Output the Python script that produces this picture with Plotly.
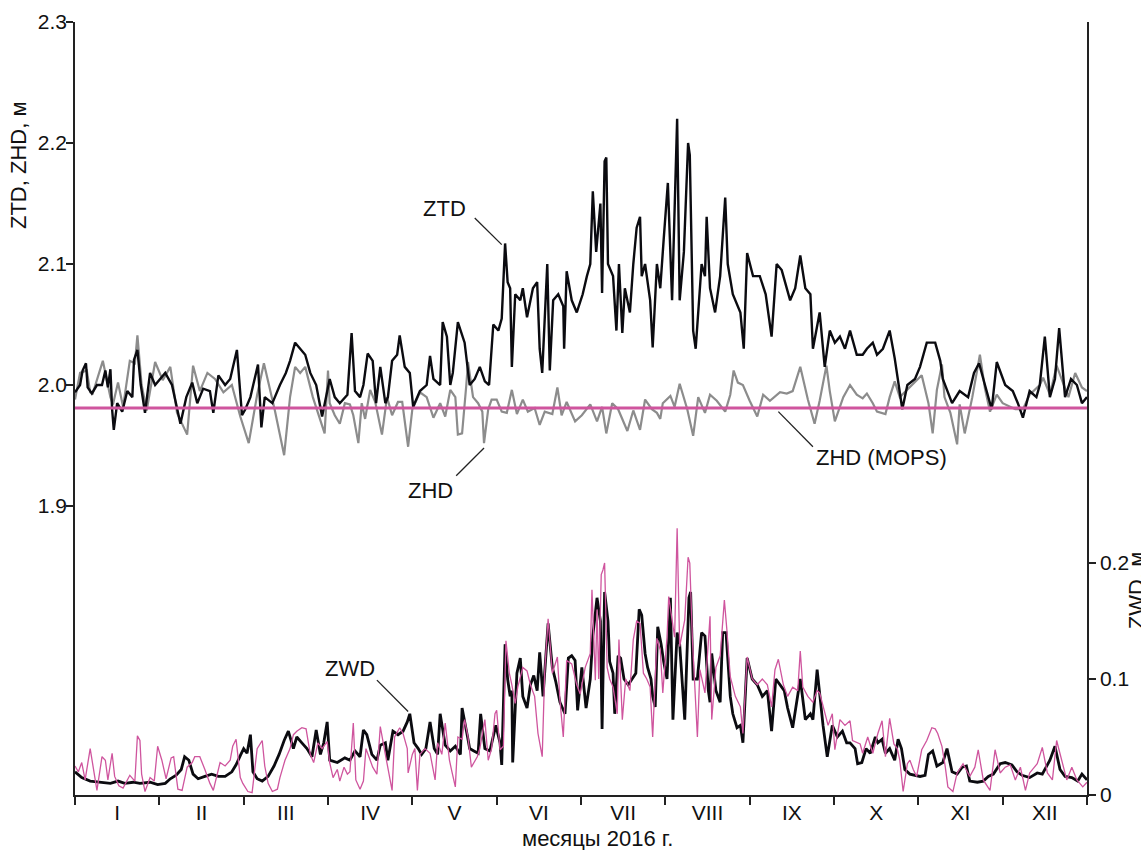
import plotly.graph_objects as go

# time in months from 1 Jan 2016 (months drawn with equal width)
ztd = [(0.00,1.994),(0.06,2.000),(0.09,2.012),(0.13,2.018),(0.15,1.998),(0.20,1.993),(0.26,2.000),(0.32,2.000),(0.36,2.012),(0.39,1.998),
       (0.42,2.013),(0.44,1.980),(0.46,1.963),(0.50,1.985),(0.56,1.978),(0.62,1.995),(0.68,1.990),(0.70,2.021),(0.74,2.029),(0.78,2.000),
       (0.83,1.977),(0.89,2.010),(0.95,2.000),(1.01,2.005),(1.07,2.010),(1.15,2.000),(1.25,1.968),(1.32,1.990),(1.39,2.002),(1.45,1.985),
       (1.52,1.997),(1.60,1.995),(1.64,1.977),(1.70,2.008),(1.78,2.000),(1.84,2.005),(1.92,2.029),(1.98,1.975),(2.02,1.980),(2.08,1.990),
       (2.17,2.017),(2.21,1.965),(2.25,1.990),(2.34,1.985),(2.43,2.000),(2.50,2.010),(2.55,2.020),(2.61,2.035),(2.67,2.030),(2.73,2.025),
       (2.79,2.010),(2.86,2.000),(2.93,1.974),(2.98,1.990),(3.02,2.005),(3.08,1.990),(3.14,1.985),(3.23,1.992),(3.28,2.043),(3.32,1.995),
       (3.38,1.990),(3.42,2.000),(3.47,2.026),(3.53,2.020),(3.57,1.985),(3.62,2.015),(3.68,1.985),(3.71,1.990),(3.76,2.020),(3.82,2.025),
       (3.85,2.041),(3.91,2.015),(3.97,2.010),(4.01,1.982),(4.09,1.995),(4.17,2.000),(4.21,2.024),(4.25,2.005),(4.33,2.000),(4.36,2.052),
       (4.41,2.040),(4.45,2.000),(4.48,2.010),(4.54,2.052),(4.59,2.040),(4.62,2.035),(4.68,2.000),(4.74,2.005),(4.80,2.015),(4.86,2.003),
       (4.91,2.000),(4.96,2.050),(5.02,2.045),(5.06,2.055),(5.10,2.117),(5.13,2.085),(5.16,2.080),(5.18,2.015),(5.22,2.075),(5.28,2.070),
       (5.31,2.080),(5.36,2.056),(5.43,2.080),(5.48,2.085),(5.51,2.030),(5.54,2.010),(5.60,2.100),(5.63,2.012),(5.67,2.070),(5.73,2.075),
       (5.79,2.065),(5.80,2.030),(5.83,2.094),(5.89,2.070),(5.95,2.060),(6.02,2.075),(6.07,2.090),(6.11,2.100),(6.14,2.160),(6.18,2.110),
       (6.23,2.150),(6.25,2.076),(6.28,2.185),(6.30,2.188),(6.32,2.100),(6.38,2.090),(6.42,2.045),(6.45,2.100),(6.49,2.043),(6.52,2.080),
       (6.58,2.060),(6.62,2.100),(6.66,2.130),(6.70,2.139),(6.72,2.090),(6.76,2.100),(6.82,2.070),(6.85,2.031),(6.90,2.100),(6.94,2.080),
       (6.98,2.120),(7.03,2.167),(7.08,2.070),(7.11,2.140),(7.14,2.220),(7.17,2.070),(7.22,2.110),(7.27,2.200),(7.29,2.190),(7.33,2.045),
       (7.36,2.030),(7.43,2.100),(7.47,2.090),(7.49,2.139),(7.53,2.080),(7.59,2.060),(7.65,2.090),(7.71,2.155),(7.74,2.100),(7.80,2.075),
       (7.89,2.060),(7.93,2.030),(7.97,2.109),(8.04,2.090),(8.12,2.090),(8.19,2.075),(8.26,2.040),(8.32,2.100),(8.38,2.095),(8.48,2.070),
       (8.54,2.080),(8.60,2.107),(8.66,2.080),(8.72,2.075),(8.75,2.030),(8.83,2.060),(8.89,2.015),(8.95,2.045),(9.01,2.035),(9.07,2.040),
       (9.13,2.030),(9.19,2.045),(9.27,2.025),(9.34,2.025),(9.39,2.030),(9.46,2.035),(9.51,2.025),(9.58,2.030),(9.66,2.045),(9.72,2.022),
       (9.81,1.980),(9.87,2.000),(9.96,2.005),(10.02,2.015),(10.10,2.035),(10.20,2.035),(10.26,2.020),(10.29,2.005),(10.40,1.985),(10.49,1.995),
       (10.59,1.990),(10.66,2.010),(10.72,2.018),(10.79,2.000),(10.87,1.980),(10.93,2.019),(11.03,2.000),(11.12,1.995),(11.18,1.985),(11.24,1.973),
       (11.32,1.995),(11.40,1.990),(11.44,2.000),(11.50,2.040),(11.56,1.990),(11.62,2.005),(11.67,2.047),(11.74,1.990),(11.81,2.005),(11.88,2.000),
       (11.94,1.985),(12.00,1.990)]

zhd = [(0.00,1.988),(0.06,2.010),(0.14,2.012),(0.18,1.994),(0.21,1.993),(0.33,2.020),(0.42,1.990),(0.45,1.984),(0.51,2.002),(0.57,1.982),
       (0.65,2.020),(0.71,2.018),(0.74,2.041),(0.79,2.000),(0.85,1.979),(0.95,2.019),(1.04,2.004),(1.13,2.015),(1.21,1.977),(1.33,1.959),
       (1.40,2.016),(1.48,1.995),(1.57,2.010),(1.66,2.005),(1.76,1.994),(1.86,2.000),(1.96,1.974),(2.06,1.952),(2.16,1.992),(2.24,2.018),
       (2.37,1.979),(2.48,1.942),(2.55,1.990),(2.61,2.015),(2.67,2.010),(2.73,2.015),(2.82,1.990),(2.91,1.970),(2.96,1.960),(3.00,2.012),
       (3.02,1.985),(3.08,1.975),(3.14,1.968),(3.20,1.985),(3.26,1.984),(3.30,1.975),(3.36,1.952),(3.40,1.985),(3.44,1.972),(3.50,1.996),
       (3.56,1.986),(3.64,1.959),(3.70,1.990),(3.76,1.975),(3.83,1.986),(3.88,1.986),(3.95,1.949),(4.00,1.980),(4.09,1.994),(4.17,1.990),
       (4.25,1.973),(4.33,1.985),(4.39,1.974),(4.45,1.996),(4.51,1.990),(4.54,1.959),(4.59,1.960),(4.64,2.000),(4.66,2.019),(4.72,1.990),
       (4.78,1.985),(4.83,1.978),(4.85,1.952),(4.90,1.980),(4.94,1.988),(5.00,1.988),(5.06,1.978),(5.12,1.977),(5.18,1.996),(5.24,1.976),
       (5.31,1.988),(5.37,1.978),(5.45,1.981),(5.51,1.967),(5.57,1.978),(5.66,1.976),(5.72,1.998),(5.77,1.975),(5.83,1.986),(5.93,1.970),
       (6.01,1.975),(6.11,1.984),(6.19,1.970),(6.25,1.982),(6.30,1.960),(6.37,1.985),(6.44,1.980),(6.55,1.962),(6.62,1.979),(6.70,1.963),
       (6.76,1.988),(6.84,1.980),(6.90,1.977),(6.94,1.972),(6.97,1.985),(7.06,1.991),(7.11,1.982),(7.17,2.001),(7.26,1.980),(7.33,1.958),
       (7.39,1.990),(7.47,1.977),(7.53,1.992),(7.61,1.987),(7.71,1.978),(7.77,1.992),(7.81,2.012),(7.86,2.002),(7.92,2.000),(8.00,1.987),
       (8.09,1.974),(8.16,1.992),(8.24,1.987),(8.36,1.994),(8.44,1.993),(8.51,1.995),(8.60,2.015),(8.69,1.988),(8.77,1.968),(8.83,1.987),
       (8.91,2.016),(8.95,1.995),(9.01,1.970),(9.11,1.990),(9.19,2.000),(9.27,1.992),(9.34,1.989),(9.39,1.993),(9.46,1.985),(9.51,1.978),
       (9.61,1.976),(9.66,1.990),(9.72,2.003),(9.78,1.990),(9.87,1.996),(9.96,2.002),(10.04,2.008),(10.12,1.985),(10.17,1.960),(10.22,1.996),
       (10.28,2.017),(10.31,1.990),(10.38,1.977),(10.46,1.951),(10.49,1.984),(10.55,1.960),(10.64,1.990),(10.73,2.025),(10.79,1.997),(10.85,1.978),
       (10.93,1.992),(11.00,1.985),(11.09,1.982),(11.15,1.980),(11.24,1.980),(11.32,1.992),(11.44,2.000),(11.48,2.006),(11.56,1.992),(11.64,2.016),
       (11.72,2.001),(11.78,1.990),(11.86,2.010),(11.94,1.998),(12.00,1.995)]

zhd_mops = [(0.0,1.981),(12.0,1.981)]

zwd = [(0.00,0.020),(0.08,0.015),(0.18,0.012),(0.30,0.011),(0.42,0.010),(0.51,0.012),(0.59,0.010),(0.69,0.011),(0.77,0.010),(0.89,0.011),
       (0.98,0.009),(1.07,0.010),(1.13,0.014),(1.20,0.017),(1.26,0.022),(1.30,0.033),(1.35,0.030),(1.40,0.018),(1.46,0.014),(1.54,0.016),
       (1.62,0.018),(1.70,0.016),(1.78,0.016),(1.86,0.020),(1.91,0.026),(1.96,0.034),(2.00,0.040),(2.04,0.036),(2.08,0.052),(2.11,0.020),
       (2.16,0.014),(2.22,0.012),(2.29,0.016),(2.36,0.025),(2.42,0.035),(2.48,0.047),(2.53,0.055),(2.59,0.040),(2.63,0.050),(2.69,0.045),
       (2.75,0.040),(2.81,0.033),(2.86,0.056),(2.91,0.035),(2.95,0.045),(2.99,0.063),(3.02,0.030),(3.11,0.028),(3.20,0.032),(3.26,0.030),
       (3.32,0.038),(3.38,0.033),(3.42,0.056),(3.46,0.052),(3.52,0.035),(3.58,0.030),(3.62,0.043),(3.68,0.045),(3.71,0.030),(3.77,0.055),
       (3.83,0.052),(3.89,0.055),(3.94,0.063),(3.97,0.070),(4.02,0.045),(4.07,0.040),(4.11,0.035),(4.16,0.040),(4.21,0.063),(4.26,0.040),
       (4.30,0.035),(4.33,0.070),(4.39,0.043),(4.45,0.038),(4.51,0.042),(4.57,0.035),(4.59,0.075),(4.65,0.052),(4.68,0.040),(4.73,0.038),
       (4.78,0.036),(4.81,0.070),(4.86,0.040),(4.92,0.038),(4.99,0.060),(5.04,0.045),(5.06,0.026),(5.10,0.130),(5.13,0.100),(5.16,0.085),
       (5.18,0.090),(5.19,0.028),(5.24,0.105),(5.28,0.118),(5.31,0.085),(5.36,0.075),(5.40,0.095),(5.44,0.103),(5.48,0.090),(5.51,0.123),
       (5.55,0.085),(5.61,0.148),(5.66,0.110),(5.70,0.098),(5.75,0.080),(5.81,0.070),(5.85,0.118),(5.89,0.120),(5.93,0.116),(5.96,0.073),
       (6.01,0.110),(6.06,0.075),(6.11,0.100),(6.14,0.137),(6.19,0.170),(6.23,0.150),(6.25,0.057),(6.28,0.175),(6.32,0.150),(6.34,0.115),
       (6.38,0.105),(6.40,0.070),(6.44,0.120),(6.47,0.118),(6.51,0.100),(6.56,0.095),(6.61,0.100),(6.65,0.105),(6.69,0.160),(6.72,0.155),
       (6.76,0.122),(6.79,0.110),(6.83,0.100),(6.85,0.085),(6.88,0.076),(6.91,0.145),(6.95,0.130),(6.98,0.115),(7.02,0.100),(7.06,0.170),
       (7.09,0.065),(7.14,0.140),(7.17,0.130),(7.23,0.065),(7.28,0.170),(7.30,0.175),(7.33,0.100),(7.38,0.100),(7.43,0.140),(7.47,0.137),
       (7.51,0.090),(7.53,0.080),(7.55,0.122),(7.60,0.090),(7.65,0.080),(7.68,0.140),(7.72,0.140),(7.77,0.085),(7.80,0.070),(7.85,0.058),
       (7.89,0.060),(7.92,0.045),(7.97,0.118),(8.03,0.100),(8.09,0.095),(8.15,0.085),(8.21,0.090),(8.26,0.055),(8.31,0.100),(8.36,0.095),
       (8.41,0.090),(8.45,0.075),(8.51,0.058),(8.60,0.100),(8.66,0.065),(8.72,0.070),(8.75,0.065),(8.80,0.108),(8.85,0.070),(8.87,0.060),
       (8.92,0.033),(8.98,0.060),(9.04,0.050),(9.10,0.055),(9.15,0.045),(9.19,0.045),(9.25,0.040),(9.28,0.027),(9.33,0.028),(9.38,0.040),
       (9.43,0.036),(9.49,0.050),(9.52,0.045),(9.57,0.048),(9.61,0.036),(9.66,0.040),(9.72,0.030),(9.76,0.048),(9.80,0.040),(9.84,0.022),
       (9.90,0.018),(9.96,0.017),(10.02,0.016),(10.08,0.017),(10.12,0.035),(10.17,0.038),(10.22,0.025),(10.29,0.028),(10.34,0.040),(10.40,0.020),
       (10.46,0.018),(10.52,0.024),(10.57,0.025),(10.61,0.012),(10.70,0.011),(10.77,0.012),(10.83,0.016),(10.89,0.018),(10.97,0.027),(11.03,0.028),
       (11.11,0.026),(11.17,0.020),(11.23,0.017),(11.32,0.015),(11.41,0.019),(11.47,0.018),(11.56,0.030),(11.62,0.042),(11.68,0.022),(11.74,0.016),
       (11.82,0.015),(11.89,0.012),(11.94,0.018),(12.00,0.013)]

zwd_mops = [(0.00,0.025),(0.04,0.020),(0.08,0.028),(0.12,0.013),(0.18,0.040),(0.24,0.010),(0.26,0.004),(0.32,0.033),(0.36,0.030),(0.39,0.013),
            (0.44,0.036),(0.47,0.016),(0.52,0.008),(0.57,0.006),(0.65,0.017),(0.71,0.012),(0.74,0.051),(0.77,0.047),(0.79,0.018),(0.83,0.003),
            (0.89,0.015),(0.94,0.012),(0.98,0.042),(1.03,0.030),(1.08,0.014),(1.14,0.032),(1.17,0.033),(1.22,0.005),(1.27,0.004),(1.33,0.024),
            (1.39,0.028),(1.42,0.033),(1.48,0.033),(1.54,0.022),(1.60,0.010),(1.64,0.004),(1.72,0.028),(1.78,0.025),(1.84,0.030),(1.87,0.042),
            (1.91,0.048),(1.96,0.015),(1.99,0.010),(2.05,0.003),(2.10,0.002),(2.16,0.040),(2.22,0.047),(2.25,0.025),(2.29,0.010),(2.34,0.003),
            (2.40,0.005),(2.43,0.015),(2.49,0.030),(2.55,0.040),(2.59,0.052),(2.63,0.055),(2.69,0.058),(2.74,0.057),(2.79,0.035),(2.83,0.028),
            (2.88,0.045),(2.93,0.040),(2.99,0.046),(3.02,0.028),(3.06,0.015),(3.11,0.022),(3.14,0.012),(3.19,0.024),(3.23,0.018),(3.26,0.020),
            (3.30,0.062),(3.33,0.013),(3.38,0.005),(3.42,0.012),(3.45,0.040),(3.50,0.030),(3.53,0.024),(3.58,0.018),(3.62,0.059),(3.68,0.035),
            (3.71,0.022),(3.76,0.004),(3.79,0.050),(3.85,0.058),(3.89,0.053),(3.94,0.040),(3.95,0.019),(4.00,0.035),(4.03,0.040),(4.06,0.004),
            (4.09,0.035),(4.15,0.040),(4.21,0.036),(4.27,0.013),(4.30,0.045),(4.35,0.035),(4.39,0.062),(4.44,0.030),(4.47,0.020),(4.51,0.007),
            (4.54,0.050),(4.59,0.048),(4.62,0.065),(4.66,0.050),(4.70,0.024),(4.77,0.033),(4.80,0.040),(4.86,0.065),(4.90,0.030),(4.94,0.040),
            (4.98,0.070),(5.00,0.073),(5.04,0.039),(5.08,0.042),(5.11,0.133),(5.15,0.105),(5.18,0.095),(5.22,0.079),(5.25,0.093),(5.31,0.110),
            (5.36,0.107),(5.40,0.095),(5.45,0.085),(5.49,0.053),(5.54,0.033),(5.57,0.107),(5.61,0.152),(5.66,0.105),(5.72,0.119),(5.75,0.082),
            (5.79,0.050),(5.83,0.116),(5.89,0.113),(5.95,0.095),(5.99,0.087),(6.05,0.110),(6.11,0.122),(6.13,0.177),(6.17,0.099),(6.19,0.160),
            (6.21,0.100),(6.24,0.190),(6.26,0.194),(6.28,0.200),(6.31,0.110),(6.34,0.100),(6.38,0.093),(6.43,0.070),(6.45,0.134),(6.49,0.065),
            (6.53,0.100),(6.58,0.090),(6.62,0.134),(6.66,0.150),(6.70,0.148),(6.74,0.105),(6.78,0.100),(6.82,0.093),(6.85,0.050),(6.90,0.135),
            (6.94,0.125),(6.97,0.088),(7.02,0.136),(7.04,0.171),(7.08,0.151),(7.11,0.136),(7.14,0.230),(7.17,0.128),(7.23,0.151),(7.27,0.205),
            (7.29,0.200),(7.32,0.136),(7.38,0.050),(7.41,0.108),(7.47,0.088),(7.53,0.154),(7.55,0.065),(7.60,0.110),(7.65,0.120),(7.67,0.142),
            (7.70,0.168),(7.73,0.142),(7.77,0.102),(7.83,0.085),(7.89,0.076),(7.92,0.053),(7.97,0.119),(8.03,0.100),(8.09,0.095),(8.15,0.100),
            (8.21,0.095),(8.26,0.076),(8.30,0.108),(8.34,0.117),(8.40,0.095),(8.45,0.085),(8.51,0.093),(8.57,0.090),(8.60,0.124),(8.63,0.093),
            (8.69,0.085),(8.75,0.080),(8.80,0.090),(8.83,0.088),(8.88,0.075),(8.93,0.060),(8.98,0.070),(9.01,0.039),(9.07,0.065),(9.13,0.060),
            (9.19,0.064),(9.22,0.047),(9.31,0.044),(9.34,0.036),(9.40,0.050),(9.46,0.036),(9.52,0.053),(9.57,0.064),(9.61,0.033),(9.66,0.066),
            (9.71,0.044),(9.75,0.040),(9.78,0.030),(9.82,0.003),(9.87,0.027),(9.90,0.030),(9.94,0.022),(9.98,0.016),(10.04,0.039),(10.10,0.047),
            (10.16,0.058),(10.20,0.057),(10.23,0.053),(10.28,0.042),(10.32,0.024),(10.35,0.007),(10.41,0.003),(10.46,0.019),(10.53,0.027),(10.61,0.016),
            (10.67,0.024),(10.71,0.039),(10.77,0.013),(10.85,0.004),(10.91,0.039),(10.97,0.019),(11.03,0.024),(11.09,0.026),(11.15,0.013),(11.21,0.024),
            (11.27,0.004),(11.32,0.019),(11.41,0.027),(11.47,0.041),(11.53,0.019),(11.59,0.013),(11.64,0.047),(11.70,0.030),(11.76,0.013),(11.82,0.024),
            (11.88,0.013),(11.95,0.007),(12.00,0.011)]

month_labels = ["I", "II", "III", "IV", "V", "VI", "VII", "VIII", "IX", "X", "XI", "XII"]
left_ticks = [1.9, 2.0, 2.1, 2.2, 2.3]
right_ticks = [0, 0.1, 0.2]

BLACK = "#0b0b10"
GREY = "#8c8c8c"
PINK = "#cf559e"
FONT = "Liberation Sans, Arial, sans-serif"


def unzip(pairs):
    return [p[0] for p in pairs], [p[1] for p in pairs]


fig = go.Figure()
t, v = unzip(zhd)
fig.add_trace(go.Scatter(x=t, y=v, mode="lines", line=dict(color=GREY, width=2.2), yaxis="y"))
t, v = unzip(ztd)
fig.add_trace(go.Scatter(x=t, y=v, mode="lines", line=dict(color=BLACK, width=2.4), yaxis="y"))
t, v = unzip(zhd_mops)
fig.add_trace(go.Scatter(x=t, y=v, mode="lines", line=dict(color=PINK, width=3), yaxis="y"))
t, v = unzip(zwd)
fig.add_trace(go.Scatter(x=t, y=v, mode="lines", line=dict(color=BLACK, width=2.8), yaxis="y2"))
t, v = unzip(zwd_mops)
fig.add_trace(go.Scatter(x=t, y=v, mode="lines", line=dict(color=PINK, width=1.3), yaxis="y2"))

axis_font = dict(family=FONT, size=21, color="#111111")

fig.update_layout(
    width=1141, height=850,
    margin=dict(l=75, r=54, t=22, b=55, autoexpand=False),
    paper_bgcolor="white", plot_bgcolor="white",
    showlegend=False,
    font=axis_font,
    xaxis=dict(
        range=[0, 12], showline=True, linecolor="#222", linewidth=1.5,
        showgrid=False, zeroline=False,
        tickmode="array", tickvals=[i + 0.5 for i in range(12)], ticktext=month_labels,
        ticks="", ticklabelstandoff=-2, tickfont=axis_font,
        minor=dict(tickmode="array", tickvals=list(range(13)), ticks="outside",
                   ticklen=8, tickwidth=1.5, tickcolor="#222", showgrid=False),
    ),
    yaxis=dict(
        range=[1.6612, 2.3], showline=True, linecolor="#222", linewidth=1.5,
        showgrid=False, zeroline=False,
        tickmode="array", tickvals=left_ticks, ticktext=[f"{x:.1f}" for x in left_ticks],
        ticks="outside", ticklen=7, tickwidth=1.5, tickcolor="#222", tickfont=axis_font,
        ticklabelstandoff=-5,
    ),
    yaxis2=dict(
        range=[0, 0.6664], overlaying="y", side="right", anchor="x",
        showline=True, linecolor="#222", linewidth=1.5,
        showgrid=False, zeroline=False,
        tickmode="array", tickvals=right_ticks, ticktext=["0", "0.1", "0.2"],
        ticks="outside", ticklen=7, tickwidth=1.5, tickcolor="#222", tickfont=axis_font,
    ),
)

lab_font = dict(family=FONT, size=22, color="#111111")
annos = [
    dict(text="ZTD", x=4.38, y=2.146, xref="x", yref="y"),
    dict(text="ZHD", x=4.22, y=1.913, xref="x", yref="y"),
    dict(text="ZHD (MOPS)", x=9.56, y=1.940, xref="x", yref="y"),
    dict(text="ZWD", x=3.26, y=0.109, xref="x", yref="y2"),
    dict(text="месяцы 2016 г.", x=0.516, y=-0.056, xref="paper", yref="paper"),
    dict(text="ZTD, ZHD, м", x=-0.0563, y=0.815, xref="paper", yref="paper", textangle=-90),
    dict(text="ZWD, м", x=1.0484, y=0.265, xref="paper", yref="paper", textangle=-90),
]
for a in annos:
    fig.add_annotation(showarrow=False, font=lab_font, xanchor="center", yanchor="middle", **a)

leaders = [
    (4.74, 2.138, 5.06, 2.116, "y"),
    (4.52, 1.925, 4.85, 1.948, "y"),
    (8.34, 1.978, 8.75, 1.949, "y"),
    (3.58, 0.099, 3.95, 0.072, "y2"),
]
for x0, y0, x1, y1, yr in leaders:
    fig.add_shape(type="line", x0=x0, y0=y0, x1=x1, y1=y1, xref="x", yref=yr,
                  line=dict(color="#222", width=1.3))

fig.write_html("out.html", config={"displayModeBar": False},
               post_script="document.body.style.margin='0px';document.body.style.overflow='hidden';")
